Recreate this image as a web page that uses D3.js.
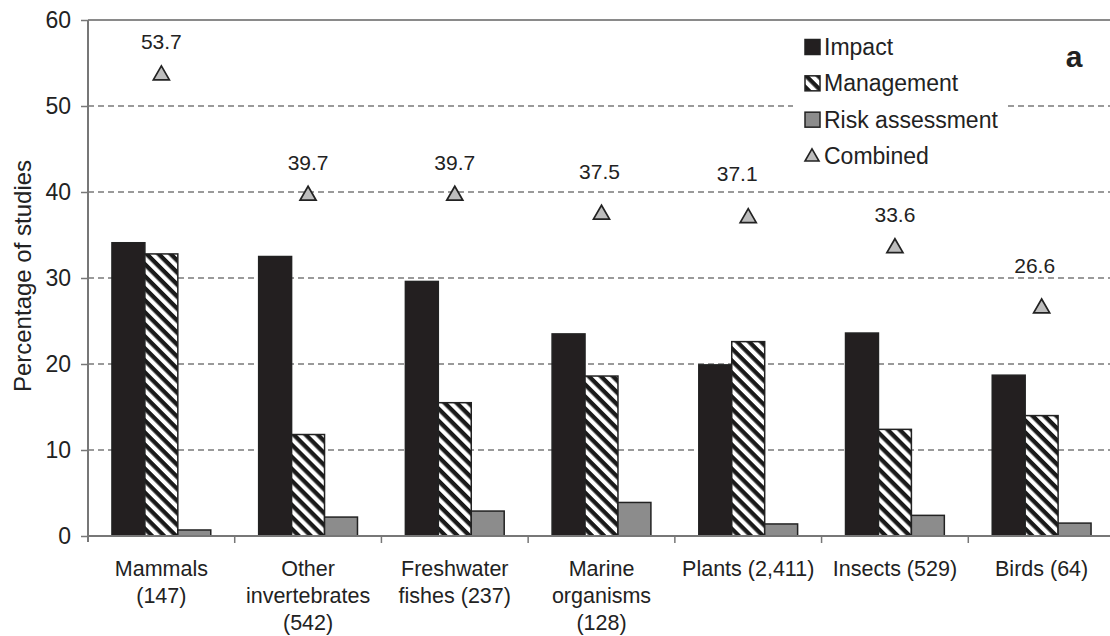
<!DOCTYPE html>
<html><head><meta charset="utf-8">
<script src="https://cdn.jsdelivr.net/npm/d3@7"></script>
<style>
html,body{margin:0;padding:0;background:#fff;}
svg{display:block;font-family:"Liberation Sans",Arial,Helvetica,sans-serif;}
</style></head>
<body>
<svg id="chart" width="1110" height="636"></svg>
<script>
const categories = ["Mammals", "Other invertebrates", "Freshwater fishes", "Marine organisms", "Plants", "Insects", "Birds"];
const categoryLabels = [
  ["Mammals", "(147)"],
  ["Other", "invertebrates", "(542)"],
  ["Freshwater", "fishes (237)"],
  ["Marine", "organisms", "(128)"],
  ["Plants (2,411)"],
  ["Insects (529)"],
  ["Birds (64)"]
];
const series = ["Impact", "Management", "Risk assessment"];
const impact = [34.1, 32.5, 29.6, 23.5, 19.9, 23.6, 18.7];
const management = [32.8, 11.8, 15.5, 18.6, 22.6, 12.4, 14.0];
const riskAssessment = [0.7, 2.2, 2.9, 3.9, 1.4, 2.4, 1.5];
const combined = [53.7, 39.7, 39.7, 37.5, 37.1, 33.6, 26.6];
const yTicks = [0, 10, 20, 30, 40, 50, 60];
const legendItems = ["Impact", "Management", "Risk assessment", "Combined"];

// layout: manual nudges of the "Combined" value labels (pixels), as placed in the original
const labelLift = [25, 25, 25, 35, 36, 25, 34];
const labelShift = [0, 0, 0, -2, -11, 0, -7];

const seriesValues = [impact, management, riskAssessment];

const svg = d3.select("#chart");
const pLeft = 88, pRight = 1115, pTop = 20, pBottom = 536;

const defs = svg.append("defs");
const pat = defs.append("pattern").attr("id", "hatch")
  .attr("patternUnits", "userSpaceOnUse").attr("width", 8.5).attr("height", 8.5)
  .attr("patternTransform", "rotate(45)");
pat.append("rect").attr("width", 8.5).attr("height", 8.5).attr("fill", "#fff");
pat.append("rect").attr("x", 0).attr("y", 0).attr("width", 8.5).attr("height", 4.3).attr("fill", "#1a1a1a");

const x0 = d3.scaleBand().domain(categories).range([pLeft, pRight]).paddingInner(0).paddingOuter(0);
const x1 = d3.scaleBand().domain(series).range([0, x0.bandwidth()]).paddingInner(0).paddingOuter(0.727);
const y = d3.scaleLinear().domain([0, 60]).range([pBottom, pTop]);

const fills = {"Impact": "#231f20", "Management": "url(#hatch)", "Risk assessment": "#8c8c8c"};

// gridlines
svg.append("g").selectAll("line").data(yTicks.filter(t => t > 0 && t < 60)).join("line")
  .attr("x1", pLeft).attr("x2", pRight).attr("y1", d => y(d)).attr("y2", d => y(d))
  .attr("stroke", "#7a7a7a").attr("stroke-width", 1.6).attr("stroke-dasharray", "6,4");
// top border
svg.append("line").attr("x1", pLeft).attr("x2", pRight).attr("y1", y(60)).attr("y2", y(60))
  .attr("stroke", "#8a8a8a").attr("stroke-width", 2);

// legend background
svg.append("rect").attr("x", 793).attr("y", 26).attr("width", 212).attr("height", 150).attr("fill", "#fff");

// bars
const groups = svg.append("g").selectAll("g").data(categories).join("g")
  .attr("transform", d => `translate(${x0(d)},0)`);
groups.selectAll("rect").data((c, i) => series.map((s, j) => ({s, v: seriesValues[j][i]}))).join("rect")
  .attr("x", d => x1(d.s)).attr("width", x1.bandwidth())
  .attr("y", d => y(d.v)).attr("height", d => y(0) - y(d.v))
  .attr("fill", d => fills[d.s]).attr("stroke", "#222").attr("stroke-width", 1.5);

// axes
const yAxis = svg.append("g").attr("transform", `translate(${pLeft},0)`)
  .call(d3.axisLeft(y).tickValues(yTicks).tickSize(7).tickPadding(10).tickFormat(d3.format("d")));
yAxis.select(".domain").remove();
yAxis.selectAll(".tick line").attr("stroke", "#777").attr("stroke-width", 1.5);
yAxis.selectAll(".tick text").attr("font-size", 23).attr("fill", "#222").attr("font-family", "Liberation Sans, Arial, sans-serif");
svg.append("line").attr("x1", pLeft).attr("x2", pLeft).attr("y1", pTop).attr("y2", pBottom + 6)
  .attr("stroke", "#777").attr("stroke-width", 2);
svg.append("line").attr("x1", pLeft).attr("x2", pRight).attr("y1", pBottom).attr("y2", pBottom)
  .attr("stroke", "#777").attr("stroke-width", 2);
svg.append("g").selectAll("line").data(categories.slice(1)).join("line")
  .attr("x1", d => x0(d)).attr("x2", d => x0(d)).attr("y1", pBottom).attr("y2", pBottom + 7)
  .attr("stroke", "#777").attr("stroke-width", 1.5);

// category labels
const catText = svg.append("g").selectAll("text").data(categories).join("text")
  .attr("x", d => x0(d) + x0.bandwidth() / 2).attr("y", 576)
  .attr("text-anchor", "middle").attr("font-size", 21.5).attr("fill", "#222");
catText.selectAll("tspan").data((d, i) => categoryLabels[i]).join("tspan")
  .attr("x", function () { return d3.select(this.parentNode).attr("x"); })
  .attr("dy", (d, i) => i === 0 ? 0 : 27).text(d => d);

// combined triangles
const tri = d3.symbol().type(d3.symbolTriangle).size(112);
svg.append("g").selectAll("path").data(categories).join("path")
  .attr("d", tri)
  .attr("transform", (d, i) => `translate(${x0(d) + x0.bandwidth() / 2},${y(combined[i]) + 1})`)
  .attr("fill", "#bdbdbd").attr("stroke", "#222").attr("stroke-width", 1.7);
svg.append("g").selectAll("text").data(categories).join("text")
  .attr("x", (d, i) => x0(d) + x0.bandwidth() / 2 + labelShift[i])
  .attr("y", (d, i) => y(combined[i]) - labelLift[i])
  .attr("text-anchor", "middle").attr("font-size", 21).attr("fill", "#222")
  .text((d, i) => combined[i].toFixed(1));

// y axis title
svg.append("text").attr("transform", `translate(31,276) rotate(-90)`)
  .attr("text-anchor", "middle").attr("font-size", 24).attr("fill", "#222")
  .text("Percentage of studies");

// legend
const lg = svg.append("g");
const ly = d3.scalePoint().domain(legendItems).range([47, 156]);
legendItems.forEach(name => {
  const cy = ly(name);
  if (name === "Combined") {
    lg.append("path").attr("d", d3.symbol().type(d3.symbolTriangle).size(85))
      .attr("transform", `translate(812,${cy + 1})`)
      .attr("fill", "#bdbdbd").attr("stroke", "#222").attr("stroke-width", 1.6);
  } else {
    lg.append("rect").attr("x", 805).attr("y", cy - 7.5).attr("width", 15).attr("height", 15)
      .attr("fill", fills[name]).attr("stroke", "#222").attr("stroke-width", 1.5);
  }
  lg.append("text").attr("x", 824).attr("y", cy + 8).attr("font-size", 23).attr("fill", "#222").text(name);
});

// panel letter
svg.append("text").attr("x", 1074).attr("y", 67).attr("text-anchor", "middle")
  .attr("font-size", 30).attr("font-weight", "bold").attr("fill", "#222").text("a");
</script>
</body></html>
